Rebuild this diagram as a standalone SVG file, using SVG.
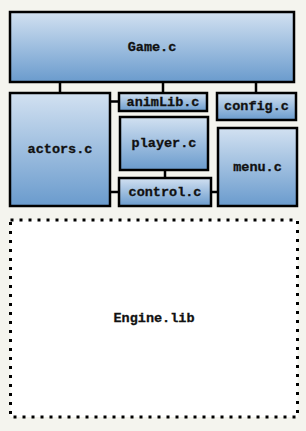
<svg xmlns="http://www.w3.org/2000/svg" width="306" height="431" viewBox="0 0 306 431">
<defs>
<linearGradient id="g" x1="0" y1="0" x2="0" y2="1">
<stop offset="0" stop-color="#d2e1f1"/>
<stop offset="1" stop-color="#6a9bcd"/>
</linearGradient>
<style>
.n{fill:url(#g);stroke:#000;stroke-width:2.5}
.t{font-family:"Liberation Mono","Courier New",monospace;font-weight:bold;font-size:13.5px;fill:#111;stroke:#111;stroke-width:0.3;text-anchor:middle;dominant-baseline:central}
.c{stroke:#000;stroke-width:2.5;fill:none}
</style>
</defs>
<rect width="306" height="431" fill="#f4f4ee"/>
<g id="connectors">
<line class="c" x1="60" y1="82" x2="60" y2="93"/>
<line class="c" x1="163" y1="82" x2="163" y2="93"/>
<line class="c" x1="256" y1="82" x2="256" y2="93"/>
<line class="c" x1="110" y1="101.5" x2="119" y2="101.5"/>
<line class="c" x1="165" y1="170" x2="165" y2="178"/>
<line class="c" x1="110" y1="192" x2="119" y2="192"/>
<line class="c" x1="211" y1="192" x2="218" y2="192"/>
</g>
<g id="engine">
<rect x="10.5" y="220" width="287" height="197" fill="#fff" stroke="#000" stroke-width="3" stroke-dasharray="3 6"/>
<text class="t" x="154" y="318">Engine.lib</text>
</g>
<g id="game">
<rect class="n" x="10" y="12" width="284" height="70"/>
<text class="t" x="152" y="47">Game.c</text>
</g>
<g id="actors">
<rect class="n" x="10" y="93" width="100" height="113"/>
<text class="t" x="60" y="149.5">actors.c</text>
</g>
<g id="animLib">
<rect class="n" x="119" y="93" width="88" height="18"/>
<text class="t" x="163" y="102">animLib.c</text>
</g>
<g id="config">
<rect class="n" x="217" y="93" width="79" height="27"/>
<text class="t" x="256.5" y="106.5">config.c</text>
</g>
<g id="player">
<rect class="n" x="120" y="117" width="88" height="53"/>
<text class="t" x="164" y="143">player.c</text>
</g>
<g id="menu">
<rect class="n" x="218" y="128" width="79" height="78"/>
<text class="t" x="257.5" y="167">menu.c</text>
</g>
<g id="control">
<rect class="n" x="119" y="178" width="92" height="28"/>
<text class="t" x="165" y="192">control.c</text>
</g>
</svg>
